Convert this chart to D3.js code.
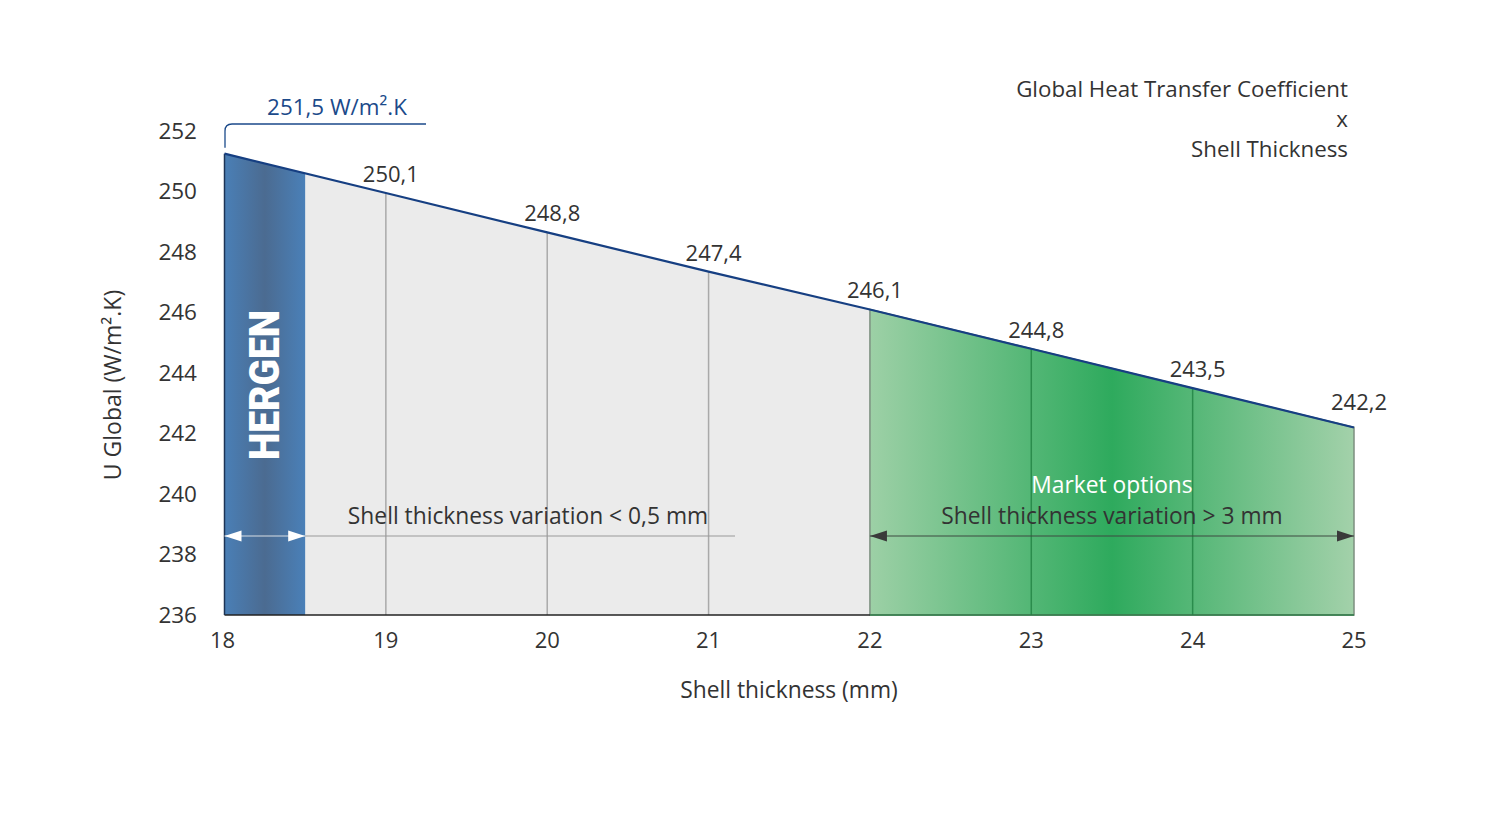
<!DOCTYPE html>
<html>
<head>
<meta charset="utf-8">
<script src="https://cdn.jsdelivr.net/npm/d3@7"></script>
<style>
  html, body { margin: 0; padding: 0; background: #fff; }
  svg text { font-family: "Open Sans", "Noto Sans", sans-serif; fill: #333; }
</style>
</head>
<body>
<div id="chart"></div>
<script>
// shell thickness (mm) and global U value
const thickness = [18, 19, 20, 21, 22, 23, 24, 25];
const uValues = [251.25, 249.95, 248.65, 247.35, 246.1, 244.8, 243.5, 242.2];
const uLabels = ['', '250,1', '248,8', '247,4', '246,1', '244,8', '243,5', '242,2'];
const yTicks = [236, 238, 240, 242, 244, 246, 248, 250, 252];
const xTicks = [18, 19, 20, 21, 22, 23, 24, 25];
const hergenRange = [18, 18.5];
const marketRange = [22, 25];
const headline = '251,5 W/m².K';
const titleLines = ['Global Heat Transfer Coefficient', 'x', 'Shell Thickness'];

const width = 1500, height = 813;
const margin = { top: 131, right: 146, bottom: 198, left: 224.5 };

let svg = d3.select('#chart').append('svg')
  .attr('width', width)
  .attr('height', height);

let x = d3.scaleLinear().domain([18, 25]).range([margin.left, width - margin.right]);
let y = d3.scaleLinear().domain([236, 252]).range([height - margin.bottom, margin.top]);

let pts = thickness.map((t, i) => ({ t: t, v: uValues[i], label: uLabels[i] }));
let valueAt = d3.scaleLinear().domain(thickness).range(uValues);

// gradients
let defs = svg.append('defs');
let blueGrad = defs.append('linearGradient').attr('id', 'blueGrad');
blueGrad.append('stop').attr('offset', '0%').attr('stop-color', '#4a7fb6');
blueGrad.append('stop').attr('offset', '50%').attr('stop-color', '#4b6b91');
blueGrad.append('stop').attr('offset', '100%').attr('stop-color', '#4a80b8');

let greenGrad = defs.append('linearGradient').attr('id', 'greenGrad');
greenGrad.append('stop').attr('offset', '0%').attr('stop-color', '#9dd0a6');
greenGrad.append('stop').attr('offset', '50%').attr('stop-color', '#2eaa5d');
greenGrad.append('stop').attr('offset', '100%').attr('stop-color', '#a3d1aa');

// area pieces
function segment(a, b) {
  let inner = pts.filter(d => d.t > a && d.t < b);
  return [{ t: a, v: valueAt(a) }].concat(inner, [{ t: b, v: valueAt(b) }]);
}
let area = d3.area()
  .x(d => x(d.t))
  .y0(y(236))
  .y1(d => y(d.v));

svg.append('path')
  .datum(segment(hergenRange[1], marketRange[0]))
  .attr('d', area)
  .attr('fill', '#ebebeb');

svg.append('path')
  .datum(segment(marketRange[0], marketRange[1]))
  .attr('d', area)
  .attr('fill', 'url(#greenGrad)')
  .attr('stroke', '#7d8f80')
  .attr('stroke-width', 1.5);

svg.append('path')
  .datum(segment(hergenRange[0], hergenRange[1]))
  .attr('d', area)
  .attr('fill', 'url(#blueGrad)');

// vertical guides
svg.selectAll('.guide')
  .data(pts.filter(d => d.t > hergenRange[1] && d.t < marketRange[1] && d.t !== marketRange[0]))
  .enter()
  .append('line')
  .attr('class', 'guide')
  .attr('x1', d => x(d.t))
  .attr('x2', d => x(d.t))
  .attr('y1', d => y(d.v))
  .attr('y2', y(236))
  .attr('stroke', d => d.t > marketRange[0] ? '#2a8c4c' : '#a9a9a9')
  .attr('stroke-width', 1.5);

// base line & left edge
svg.append('line')
  .attr('x1', x(18)).attr('x2', x(marketRange[0]))
  .attr('y1', y(236)).attr('y2', y(236))
  .attr('stroke', '#222').attr('stroke-width', 1.5);
svg.append('line')
  .attr('x1', x(marketRange[0])).attr('x2', x(25))
  .attr('y1', y(236)).attr('y2', y(236))
  .attr('stroke', '#2b7a45').attr('stroke-width', 1.5);
svg.append('line')
  .attr('x1', x(18)).attr('x2', x(18))
  .attr('y1', y(valueAt(18))).attr('y2', y(236))
  .attr('stroke', '#1d3456').attr('stroke-width', 1.5);

// main line
svg.append('path')
  .datum(pts)
  .attr('d', d3.line().x(d => x(d.t)).y(d => y(d.v)))
  .attr('fill', 'none')
  .attr('stroke', '#163f82')
  .attr('stroke-width', 2.2);

// value labels
svg.selectAll('.vlabel')
  .data(pts.filter(d => d.label))
  .enter()
  .append('text')
  .attr('class', 'vlabel')
  .attr('x', d => x(d.t) + 5)
  .attr('y', (d, i, a) => y(d.v) - (i === a.length - 1 ? 17 : 11))
  .attr('text-anchor', 'middle')
  .style('font-size', '22px')
  .text(d => d.label);

// axes labels (no lines/ticks)
svg.selectAll('.xtick')
  .data(xTicks)
  .enter()
  .append('text')
  .attr('x', d => x(d) - (d === 18 ? 2 : 0))
  .attr('y', y(236) + 33)
  .attr('text-anchor', 'middle')
  .style('font-size', '22px')
  .text(d => d);

svg.selectAll('.ytick')
  .data(yTicks)
  .enter()
  .append('text')
  .attr('x', 197)
  .attr('y', d => y(d))
  .attr('dy', '0.35em')
  .attr('text-anchor', 'end')
  .style('font-size', '22.5px')
  .text(d => d);

svg.append('text')
  .attr('x', 789)
  .attr('y', 698)
  .attr('text-anchor', 'middle')
  .style('font-size', '22.8px')
  .text('Shell thickness (mm)');

svg.append('text')
  .attr('transform', 'translate(121,385) rotate(-90)')
  .attr('text-anchor', 'middle')
  .style('font-size', '23px')
  .text('U Global (W/m².K)');

// title
svg.selectAll('.title')
  .data(titleLines)
  .enter()
  .append('text')
  .attr('x', 1348)
  .attr('y', (d, i) => 97 + i * 30)
  .attr('text-anchor', 'end')
  .style('font-size', '22.3px')
  .text(d => d);

// 251,5 bracket annotation
let bx = x(18) + 0.5;
svg.append('path')
  .attr('d', `M${bx},${y(valueAt(18)) - 6} V131 Q${bx},124 ${bx + 7},124 H426`)
  .attr('fill', 'none')
  .attr('stroke', '#1b4a8a')
  .attr('stroke-width', 1.3);
svg.append('text')
  .attr('x', 337)
  .attr('y', 115)
  .attr('text-anchor', 'middle')
  .style('font-size', '22.4px')
  .style('fill', '#1b4a8a')
  .text(headline);

// HERGEN brand
svg.append('text')
  .attr('transform', `translate(${x(18.25) + 14},${385}) rotate(-90)`)
  .attr('text-anchor', 'middle')
  .attr('textLength', 150)
  .attr('lengthAdjust', 'spacingAndGlyphs')
  .style('font-family', 'Roboto, sans-serif')
  .style('font-weight', 900)
  .style('font-size', '42px')
  .style('fill', '#fff')
  .text('HERGEN');

// arrow helpers
function arrowHead(xTip, yy, dir, color) {
  svg.append('path')
    .attr('d', `M${xTip},${yy} L${xTip - dir * 17},${yy - 5.5} L${xTip - dir * 17},${yy + 5.5} Z`)
    .attr('fill', color);
}
let arrowY = 536;

// hergen arrow
svg.append('line')
  .attr('x1', x(18)).attr('x2', x(18.5))
  .attr('y1', arrowY).attr('y2', arrowY)
  .attr('stroke', '#d8dde4').attr('stroke-width', 1.2);
arrowHead(x(18), arrowY, -1, '#fff');
arrowHead(x(18.5), arrowY, 1, '#fff');
svg.append('line')
  .attr('x1', x(18.5)).attr('x2', 735)
  .attr('y1', arrowY).attr('y2', arrowY)
  .attr('stroke', '#9a9a9a').attr('stroke-width', 1.2);
svg.append('text')
  .attr('x', 528)
  .attr('y', 524)
  .attr('text-anchor', 'middle')
  .style('font-size', '22.8px')
  .text('Shell thickness variation < 0,5 mm');

// market arrow
svg.append('line')
  .attr('x1', x(22)).attr('x2', x(25))
  .attr('y1', arrowY).attr('y2', arrowY)
  .attr('stroke', '#3d4a40').attr('stroke-width', 1.2);
arrowHead(x(22), arrowY, -1, '#3a3a3a');
arrowHead(x(25), arrowY, 1, '#3a3a3a');
svg.append('text')
  .attr('x', 1112)
  .attr('y', 493)
  .attr('text-anchor', 'middle')
  .style('font-size', '22.8px')
  .style('fill', '#fff')
  .text('Market options');
svg.append('text')
  .attr('x', 1112)
  .attr('y', 524)
  .attr('text-anchor', 'middle')
  .style('font-size', '22.8px')
  .text('Shell thickness variation > 3 mm');
</script>
</body>
</html>
